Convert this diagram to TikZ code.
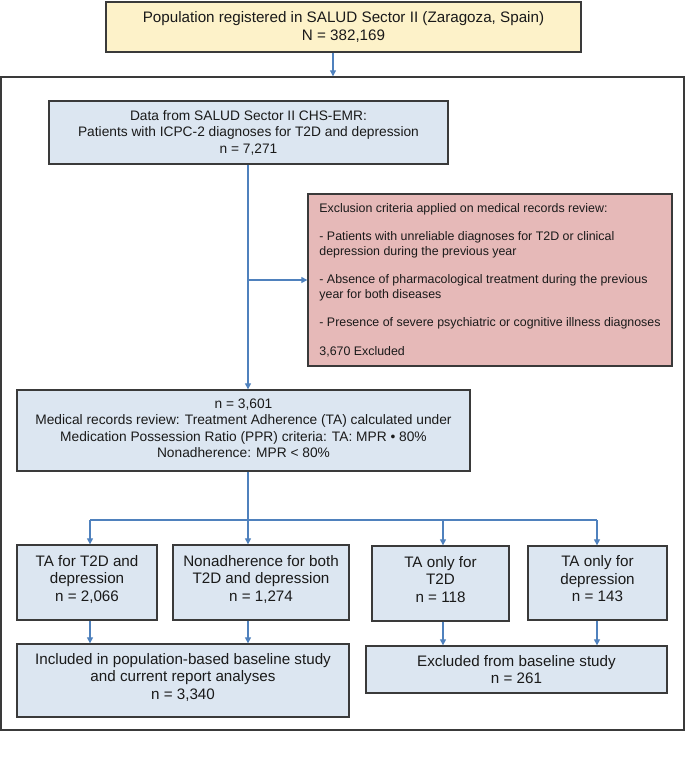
\documentclass[tikz,border=0pt]{standalone}
\usepackage{fontspec}
\setmainfont{Liberation Sans}
\usetikzlibrary{arrows.meta}
\definecolor{boxblue}{HTML}{DCE6F1}
\definecolor{boxpink}{HTML}{E6B9B8}
\definecolor{boxyellow}{HTML}{FDF2C9}
\definecolor{arrowblue}{HTML}{4F81BD}
\definecolor{edgegray}{HTML}{3A3A3A}
\definecolor{txt}{HTML}{1A1A1A}
\begin{document}
\begin{tikzpicture}[x=1pt,y=-1pt,
  fbox/.style={draw=edgegray, line width=1.3pt, inner sep=0pt, align=center, text=txt},
  bluebox/.style={fbox, fill=boxblue},
  bigfont/.style={font=\fontsize{15.2}{17.5}\selectfont},
  midfont/.style={font=\fontsize{13.75}{16.5}\selectfont},
  smallfont/.style={font=\fontsize{12.4}{14.5}\selectfont},
  arr/.style={draw=arrowblue, line width=1.1pt, -{Triangle[length=6pt,width=6pt]}},
  ln/.style={draw=arrowblue, line width=1.1pt}]
\useasboundingbox (0,0) rectangle (685,765);
% outer frame
\node[draw=edgegray, line width=1.4pt, minimum width=683pt, minimum height=653pt, inner sep=0pt] (frame) at (342.5,403.5) {};
% boxes
\node[fbox, fill=boxyellow, minimum width=475pt, minimum height=50pt, bigfont] (pop) at (343.5,27)
  {Population registered in SALUD Sector II (Zaragoza, Spain)\\N = 382,169};
\node[bluebox, minimum width=399pt, minimum height=63pt, midfont] (data) at (248.5,132.5)
  {Data from SALUD Sector II CHS-EMR:\\Patients with ICPC-2 diagnoses for T2D and depression\\n = 7,271};
\node[fbox, fill=boxpink, minimum width=364pt, minimum height=172pt, smallfont, align=left] (excl) at (490,280)
  {Exclusion criteria applied on medical records review:\\[14pt]- Patients with unreliable diagnoses for T2D or clinical\\depression during the previous year\\[14pt]- Absence of pharmacological treatment during the previous\\year for both diseases\\[14pt]- Presence of severe psychiatric or cognitive illness diagnoses\\[14pt]3,670 Excluded};
\node[bluebox, minimum width=453pt, minimum height=81pt, midfont] (adh) at (243.5,430.5)
  {n = 3,601\\Medical records review: Treatment Adherence (TA) calculated under\\Medication Possession Ratio (PPR) criteria: TA: MPR • 80\%\\Nonadherence: MPR < 80\%\\[-11.5pt]};
\node[bluebox, minimum width=140pt, minimum height=75pt, bigfont] (ta) at (87,582.5)
  {TA for T2D and\\depression\\n = 2,066\\[-9pt]};
\node[bluebox, minimum width=176pt, minimum height=75pt, bigfont] (non) at (261,582.5)
  {Nonadherence for both\\T2D and depression\\n = 1,274\\[-9pt]};
\node[bluebox, minimum width=137pt, minimum height=75pt, bigfont] (tat) at (440.5,583.5)
  {TA only for\\T2D\\n = 118\\[-9pt]};
\node[bluebox, minimum width=139pt, minimum height=74pt, bigfont] (tad) at (597.5,583)
  {TA only for\\depression\\n = 143\\[-9pt]};
\node[bluebox, minimum width=332pt, minimum height=73pt, bigfont] (inc) at (183,680.5)
  {Included in population-based baseline study\\and current report analyses\\n = 3,340\\[-9pt]};
\node[bluebox, minimum width=301pt, minimum height=47pt, bigfont] (exc) at (516.5,669.5)
  {Excluded from baseline study\\n = 261};
% connector x positions
\coordinate (xm) at (333,0);
\coordinate (xc) at (248,0);
\coordinate (xa) at (90,0);
\coordinate (xt) at (443,0);
\coordinate (xd) at (597,0);
\coordinate (hb) at (0,520);
% connectors
\draw[arr] (pop.south -| xm) -- (frame.north -| xm);
\draw[arr] (data.south -| xc) -- (adh.north -| xc);
\draw[arr] (xc |- excl.west) -- (excl.west);
\draw[ln] (adh.south -| xc) -- (xc |- hb);
\draw[ln] (xa |- hb) -- (xd |- hb);
\draw[arr] (xa |- hb) -- (ta.north -| xa);
\draw[arr] (xc |- hb) -- (non.north -| xc);
\draw[arr] (xt |- hb) -- (tat.north -| xt);
\draw[arr] (xd |- hb) -- (tad.north -| xd);
\draw[arr] (ta.south -| xa) -- (inc.north -| xa);
\draw[arr] (non.south -| xc) -- (inc.north -| xc);
\draw[arr] (tat.south -| xt) -- (exc.north -| xt);
\draw[arr] (tad.south -| xd) -- (exc.north -| xd);
\end{tikzpicture}
\end{document}
